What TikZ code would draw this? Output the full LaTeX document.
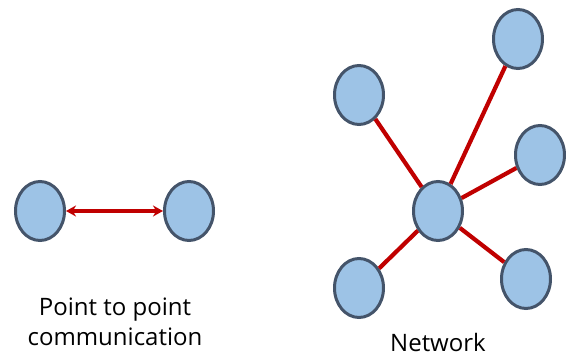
\documentclass[tikz,border=0pt]{standalone}
\usepackage{fontspec}
\setmainfont{Open Sans}
\usepackage{xcolor}
\usetikzlibrary{shapes.geometric, arrows.meta, positioning, calc}

\definecolor{nodefill}{RGB}{157,195,230}
\definecolor{nodeedge}{RGB}{68,84,106}
\definecolor{linkred}{RGB}{192,0,0}

\tikzset{
    peer/.style={draw=nodeedge, fill=nodefill, ellipse, line width=3pt, inner sep=0pt, minimum width=49pt, minimum height=59pt},
    link/.style={draw=linkred, line width=4.2pt},
    caption/.style={font=\fontsize{24}{30}\selectfont, align=center, inner sep=0pt}
}

\begin{document}
\begin{tikzpicture}[x=1pt, y=-1pt]
    \useasboundingbox (0,0) rectangle (566,356);

    % Point to point
    \node[peer] (pa) at (40,211) {};
    \node[peer] (pb) at (189,211) {};
    \draw[linkred, line width=3.4pt, {Stealth[length=10pt,width=11pt]}-{Stealth[length=10pt,width=11pt]}] (pa) -- (pb);
    \node[caption] (ptext) at (115,322) {Point to point\\communication};

    % Network
    \node[peer] (hub) at (438,211) {};
    \node[peer] (upleft) at (359,95) {};
    \node[peer] (top) at (518,39) {};
    \node[peer] (right) at (540,155) {};
    \node[peer] (lowright) at (526,279) {};
    \node[peer] (lowleft) at (359,288) {};
    \foreach \n in {upleft, top, right, lowright, lowleft}
        \draw[link] (hub) -- (\n);
    \node[caption, anchor=base] (ntext) at (438,351) {Network};
\end{tikzpicture}
\end{document}
